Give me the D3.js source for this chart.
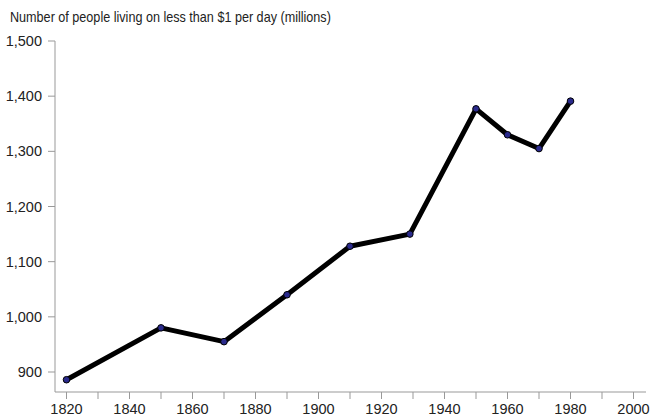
<!DOCTYPE html>
<html><head><meta charset="utf-8">
<script src="https://cdn.jsdelivr.net/npm/d3@7"></script>
<style>body{margin:0;background:#fff;} svg{display:block;}</style>
</head><body>
<svg id="c" width="651" height="415"></svg>
<script>
const years = [1820, 1850, 1870, 1890, 1910, 1929, 1950, 1960, 1970, 1980];
const people = [886, 980, 955, 1040, 1128, 1150, 1377, 1330, 1305, 1391];
const yTicks = [900, 1000, 1100, 1200, 1300, 1400, 1500];
const xLabelTicks = [1820, 1840, 1860, 1880, 1900, 1920, 1940, 1960, 1980, 2000];
const xMinorTicks = [1830, 1850, 1870, 1890, 1910, 1930, 1950, 1970, 1990];
const title = "Number of people living on less than $1 per day (millions)";

const font = "'Liberation Sans Narrow','Arial Narrow','Liberation Sans',Arial,sans-serif";
const svg = d3.select("#c");
const x = d3.scaleLinear().domain([1820, 2000]).range([66.5, 633.5]);
const y = d3.scaleLinear().domain([900, 1500]).range([372, 41]);
const axisX0 = 55, axisY0 = 392;

svg.append("text").attr("transform", "translate(10,22) scale(0.87,1)").text(title)
  .attr("font-family", font).attr("font-size", 14.5).attr("fill", "#222");

const axisColor = "#999";
// y axis
svg.append("line").attr("x1", axisX0).attr("x2", axisX0).attr("y1", y(1500)).attr("y2", axisY0)
  .attr("stroke", axisColor).attr("stroke-width", 1);
const yg = svg.append("g");
yg.selectAll("line").data(yTicks).join("line")
  .attr("x1", axisX0 - 7).attr("x2", axisX0).attr("y1", d => y(d)).attr("y2", d => y(d))
  .attr("stroke", axisColor);
yg.selectAll("text").data(yTicks).join("text")
  .attr("x", axisX0 - 13).attr("y", d => y(d) + 5).attr("text-anchor", "end")
  .attr("font-family", font).attr("font-size", 14.5).attr("fill", "#222")
  .text(d => d3.format(",")(d));

// x axis
svg.append("line").attr("x1", axisX0).attr("x2", 646).attr("y1", axisY0).attr("y2", axisY0)
  .attr("stroke", axisColor);
const xg = svg.append("g");
xg.selectAll("line").data(xLabelTicks.concat(xMinorTicks)).join("line")
  .attr("x1", d => x(d)).attr("x2", d => x(d)).attr("y1", axisY0).attr("y2", axisY0 + 7)
  .attr("stroke", axisColor);
xg.selectAll("text").data(xLabelTicks).join("text")
  .attr("x", d => x(d)).attr("y", 414).attr("text-anchor", "middle")
  .attr("font-family", font).attr("font-size", 14.5).attr("fill", "#222")
  .text(d => d);

const data = years.map((yr, i) => ({yr, v: people[i]}));
svg.append("path").datum(data)
  .attr("d", d3.line().x(d => x(d.yr)).y(d => y(d.v)))
  .attr("fill", "none").attr("stroke", "#000").attr("stroke-width", 5)
  .attr("stroke-linejoin", "round").attr("stroke-linecap", "round");
svg.selectAll("circle.pt").data(data).join("circle").attr("class", "pt")
  .attr("cx", d => x(d.yr)).attr("cy", d => y(d.v)).attr("r", 3.3)
  .attr("fill", "#2a2a8c").attr("stroke", "#000").attr("stroke-width", 1);
</script>
</body></html>
